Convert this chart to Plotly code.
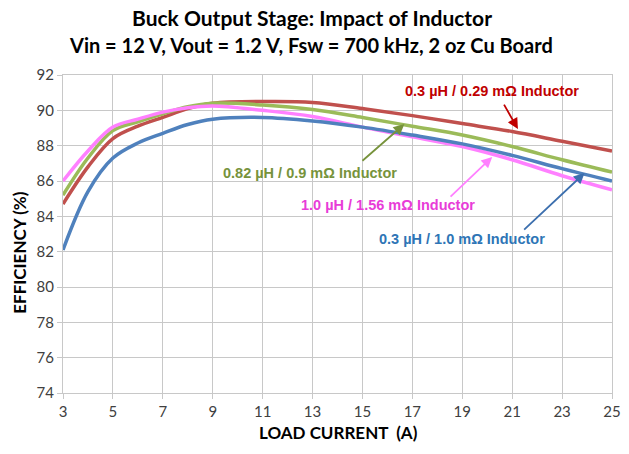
import plotly.graph_objects as go

load_current = [3, 4, 5, 6, 7, 8, 9, 11, 13, 15, 17, 19, 21, 23, 25]

eff_03_029 = [84.7, 86.8, 88.4, 89.1, 89.6, 90.1, 90.4, 90.5, 90.45, 90.1, 89.7, 89.25, 88.8, 88.25, 87.7]
eff_082_09 = [85.2, 87.3, 88.85, 89.35, 89.8, 90.2, 90.4, 90.3, 90.05, 89.6, 89.1, 88.6, 87.95, 87.2, 86.5]
eff_10_156 = [86.0, 87.7, 89.05, 89.5, 89.9, 90.15, 90.25, 90.0, 89.65, 89.05, 88.5, 87.95, 87.2, 86.3, 85.5]
eff_03_10 = [82.1, 85.4, 87.3, 88.15, 88.7, 89.2, 89.5, 89.6, 89.4, 89.05, 88.6, 88.1, 87.45, 86.7, 86.0]

x_ticks = [3, 5, 7, 9, 11, 13, 15, 17, 19, 21, 23, 25]
y_ticks = [74, 76, 78, 80, 82, 84, 86, 88, 90, 92]

series = [
    ("0.3 µH / 0.29 mΩ Inductor", eff_03_029, "#C0504D"),
    ("0.82 µH / 0.9 mΩ Inductor", eff_082_09, "#9BBB59"),
    ("1.0 µH / 1.56 mΩ Inductor", eff_10_156, "#FF80FF"),
    ("0.3 µH / 1.0 mΩ Inductor", eff_03_10, "#4F81BD"),
]

# label text positions and arrow (tail -> head) in data coordinates
labels = [
    ("0.3 µH / 0.29 mΩ Inductor", 20.2, 91.09, "#C00000", (20.64, 90.41), (21.23, 88.94), "#C00000"),
    ("0.82 µH / 0.9 mΩ Inductor", 12.9, 86.45, "#77933C", (14.94, 87.07), (16.68, 89.22), "#77933C"),
    ("1.0 µH / 1.56 mΩ Inductor", 16.04, 84.66, "#E83CD8", (18.47, 85.04), (20.2, 87.36), "#FF80FF"),
    ("0.3 µH / 1.0 mΩ Inductor", 19.0, 82.7, "#2E75B6", (21.42, 83.17), (23.9, 86.45), "#3C6FAE"),
]

PL, PT, PW, PH = 63, 75, 558, 318

fig = go.Figure()
for name, vals, color in series:
    fig.add_trace(go.Scatter(x=load_current, y=vals, mode="lines", name=name, hoverinfo="skip",
                             line=dict(color=color, width=3.5, shape="spline", smoothing=1.0)))

for text, tx, ty, tcolor, tail, head, acolor in labels:
    fig.add_annotation(x=tx, y=ty, xref="x", yref="y", text="<b>" + text + "</b>", showarrow=False,
                       font=dict(family="Liberation Sans", size=14.5, color=tcolor))
    fig.add_annotation(x=head[0], y=head[1], ax=tail[0], ay=tail[1], xref="x", yref="y",
                       axref="x", ayref="y", text="", showarrow=True, arrowhead=2,
                       arrowsize=1.2, arrowwidth=1.8, arrowcolor=acolor)

def px_to_paper(px, py):
    return (px - PL) / PW, 1 - (py - PT) / PH

tx1, ty1 = px_to_paper(316, 17)
fig.add_annotation(x=tx1, y=ty1, xref="paper", yref="paper", xanchor="center", yanchor="middle",
                   text="<b>Buck Output Stage: Impact of Inductor</b>", showarrow=False,
                   font=dict(family="Lato", size=21, color="#000000"))
tx2, ty2 = px_to_paper(315, 45)
fig.add_annotation(x=tx2, y=ty2, xref="paper", yref="paper", xanchor="center", yanchor="middle",
                   text="<b>Vin = 12 V, Vout = 1.2 V, Fsw = 700 kHz, 2 oz Cu Board</b>", showarrow=False,
                   font=dict(family="Lato", size=20, color="#000000"))
ax_x, ax_y = px_to_paper(343, 432)
fig.add_annotation(x=ax_x, y=ax_y, xref="paper", yref="paper", xanchor="center", yanchor="middle",
                   text="<b>LOAD CURRENT  (A)</b>", showarrow=False,
                   font=dict(family="Lato", size=17, color="#000000"))
ay_x, ay_y = px_to_paper(18, 252)
fig.add_annotation(x=ay_x, y=ay_y, xref="paper", yref="paper", xanchor="center", yanchor="middle",
                   text="<b>EFFICIENCY (%)</b>", showarrow=False, textangle=-90,
                   font=dict(family="Lato", size=17, color="#000000"))

fig.update_layout(
    width=629, height=454,
    margin=dict(l=PL, r=629 - PL - PW, t=PT, b=454 - PT - PH),
    paper_bgcolor="white", plot_bgcolor="white",
    showlegend=False,
)

fig.update_xaxes(range=[3, 25], tickvals=x_ticks, showgrid=True, gridcolor="#C8C8C8", gridwidth=1,
                 showline=True, linecolor="#C8C8C8", mirror=True, zeroline=False,
                 ticks="outside", ticklen=5, tickcolor="#C8C8C8", ticklabeloverflow="allow",
                 tickfont=dict(family="Lato", size=15, color="#404040"))
fig.update_yaxes(range=[74, 92], tickvals=y_ticks, showgrid=True, gridcolor="#C8C8C8", gridwidth=1,
                 showline=True, linecolor="#C8C8C8", mirror=True, zeroline=False,
                 ticks="outside", ticklen=5, tickcolor="#C8C8C8",
                 tickfont=dict(family="Lato", size=15, color="#404040"))

fig.write_html("out.html", config={"displayModeBar": False},
               post_script="document.body.style.margin='0';")
